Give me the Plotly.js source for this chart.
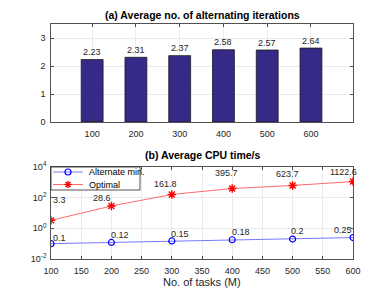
<!DOCTYPE html>
<html>
<head>
<meta charset="utf-8">
<script src="https://cdn.plot.ly/plotly-3.0.1.min.js"></script>
<style>html,body{margin:0;padding:0;background:#fff;}#chart{width:390px;height:293px;}</style>
</head>
<body>
<div id="chart"></div>
<script>
// ---- data ----
const tasks = [100, 200, 300, 400, 500, 600];
const avgIterations = [2.23, 2.31, 2.37, 2.58, 2.57, 2.64];
const iterLabels = ['2.23', '2.31', '2.37', '2.58', '2.57', '2.64'];
const cpuAltMin = [0.1, 0.12, 0.15, 0.18, 0.2, 0.25];
const altLabels = ['0.1', '0.12', '0.15', '0.18', '0.2', '0.25'];
const cpuOptimal = [3.3, 28.6, 161.8, 395.7, 623.7, 1122.6];
const optLabels = ['3.3', '28.6', '161.8', '395.7', '623.7', '1122.6'];
const seriesNames = ['Alternate min.', 'Optimal'];
const titleA = '(a) Average no. of alternating iterations';
const titleB = '(b) Average CPU time/s';
const xTitle = 'No. of tasks (M)';
const logTickVals = [0.01, 1, 100, 10000];
const logTickText = ['10<sup>-2</sup>', '10<sup>0</sup>', '10<sup>2</sup>', '10<sup>4</sup>'];

// ---- style ----
const W = 390, H = 293;
const FONT = '"Liberation Sans", Arial, Helvetica, sans-serif';
const AX = '#262626';
const GRID = '#e6e6e6';
const px = x => x / W;
const py = y => 1 - y / H;
const altShift = [[8, 6], [8.6, 7.5], [8.5, 7], [8.6, 7.5], [5.2, 8], [-10, 8]];
const optShift = [[8.5, 20], [-9.6, 8.3], [-6.5, 10], [-5.5, 16], [-5, 11], [-10, 10]];

const traces = [
  {type: 'bar', x: tasks, y: avgIterations, width: 50, xaxis: 'x', yaxis: 'y',
   marker: {color: '#352a87', line: {color: '#1a1a1a', width: 0.8}}, showlegend: false, hoverinfo: 'none'},
  {type: 'scatter', mode: 'lines+markers', x: tasks, y: cpuAltMin, xaxis: 'x2', yaxis: 'y2', name: seriesNames[0],
   line: {color: '#7878ff', width: 1}, marker: {symbol: 'circle-open', size: 6, color: '#0000ff', line: {width: 1.2, color: '#0000ff'}},
   showlegend: false},
  {type: 'scatter', mode: 'lines+markers', x: tasks, y: cpuOptimal, xaxis: 'x2', yaxis: 'y2', name: seriesNames[1],
   line: {color: '#ff6a6a', width: 1}, marker: {symbol: 'asterisk-open', size: 7, color: '#ff0000', line: {width: 1.4, color: '#ff0000'}},
   showlegend: false}
];

const axisCommon = {
  showline: true, linecolor: AX, linewidth: 0.8, mirror: 'allticks',
  ticks: 'inside', ticklen: 3, tickcolor: AX, tickwidth: 0.8,
  showgrid: true, gridcolor: GRID, gridwidth: 0.8, zeroline: false,
  tickfont: {family: FONT, size: 9, color: AX}, fixedrange: true
};

const annotations = [];
// titles
annotations.push({text: '<b>' + titleA + '</b>', xref: 'paper', yref: 'paper', x: px(202), y: py(15),
  xanchor: 'center', yanchor: 'middle', showarrow: false, font: {family: FONT, size: 10.5, color: '#000'}});
annotations.push({text: '<b>' + titleB + '</b>', xref: 'paper', yref: 'paper', x: px(202), y: py(155),
  xanchor: 'center', yanchor: 'middle', showarrow: false, font: {family: FONT, size: 10.5, color: '#000'}});
annotations.push({text: xTitle, xref: 'paper', yref: 'paper', x: px(202), y: py(282),
  xanchor: 'center', yanchor: 'middle', showarrow: false, font: {family: FONT, size: 11, color: AX}});
// bar labels
tasks.forEach((t, i) => annotations.push({text: iterLabels[i], x: t, y: avgIterations[i], xref: 'x', yref: 'y',
  xanchor: 'center', yanchor: 'middle', yshift: 7.5, showarrow: false, font: {family: FONT, size: 9, color: AX}}));
// line labels
tasks.forEach((t, i) => annotations.push({text: altLabels[i], x: t, y: Math.log10(cpuAltMin[i]), xref: 'x2', yref: 'y2',
  xanchor: 'center', yanchor: 'middle', xshift: altShift[i][0], yshift: altShift[i][1], showarrow: false,
  font: {family: FONT, size: 9, color: AX}}));
tasks.forEach((t, i) => annotations.push({text: optLabels[i], x: t, y: Math.log10(cpuOptimal[i]), xref: 'x2', yref: 'y2',
  xanchor: 'center', yanchor: 'middle', xshift: optShift[i][0], yshift: optShift[i][1], showarrow: false,
  font: {family: FONT, size: 9, color: AX}}));
// legend texts
annotations.push({text: seriesNames[0], xref: 'paper', yref: 'paper', x: px(86.5), y: py(172), xanchor: 'left', yanchor: 'middle',
  showarrow: false, font: {family: FONT, size: 9, color: '#000'}});
annotations.push({text: seriesNames[1], xref: 'paper', yref: 'paper', x: px(86.5), y: py(184.5), xanchor: 'left', yanchor: 'middle',
  showarrow: false, font: {family: FONT, size: 9, color: '#000'}});

// legend shapes
const shapes = [
  {type: 'rect', xref: 'paper', yref: 'paper', x0: px(51), x1: px(140), y0: py(190), y1: py(167),
   fillcolor: '#ffffff', line: {color: AX, width: 0.8}, layer: 'above'},
  {type: 'line', xref: 'paper', yref: 'paper', x0: px(53), x1: px(83), y0: py(172), y1: py(172),
   line: {color: '#7878ff', width: 1}, layer: 'above'},
  {type: 'circle', xref: 'paper', yref: 'paper', x0: px(65), x1: px(71), y0: py(175), y1: py(169),
   line: {color: '#0000ff', width: 1.2}, fillcolor: 'rgba(0,0,0,0)', layer: 'above'},
  {type: 'line', xref: 'paper', yref: 'paper', x0: px(53), x1: px(83), y0: py(184.5), y1: py(184.5),
   line: {color: '#ff6a6a', width: 1}, layer: 'above'}
];
// asterisk in legend
[[-3.5, 0, 3.5, 0], [0, -3.5, 0, 3.5], [-2.5, -2.5, 2.5, 2.5], [-2.5, 2.5, 2.5, -2.5]].forEach(s => shapes.push({
  type: 'line', xref: 'paper', yref: 'paper', x0: px(68 + s[0]), x1: px(68 + s[2]), y0: py(184.5 + s[1]), y1: py(184.5 + s[3]),
  line: {color: '#ff0000', width: 1.4}, layer: 'above'}));

const layout = {
  width: W, height: H, margin: {l: 0, r: 0, t: 0, b: 0},
  paper_bgcolor: '#ffffff', plot_bgcolor: '#ffffff', showlegend: false,
  font: {family: FONT, size: 9, color: AX},
  xaxis: Object.assign({}, axisCommon, {domain: [px(51), px(353)], anchor: 'y', range: [6, 696],
    tickvals: tasks, ticktext: tasks.map(String), ticklabelstandoff: 3}),
  yaxis: Object.assign({}, axisCommon, {domain: [py(122), py(24)], anchor: 'x', range: [0, 3.5],
    tickvals: [0, 1, 2, 3], ticklabelstandoff: 3}),
  xaxis2: Object.assign({}, axisCommon, {domain: [px(51), px(353)], anchor: 'y2', range: [100, 600],
    tick0: 100, dtick: 50, ticklabelstandoff: 3}),
  yaxis2: Object.assign({}, axisCommon, {domain: [py(259), py(167)], anchor: 'x2', type: 'log', range: [-2, 4],
    tickvals: logTickVals, ticktext: logTickText, ticklabelstandoff: 2}),
  annotations: annotations,
  shapes: shapes
};

Plotly.newPlot('chart', traces, layout, {displayModeBar: false, staticPlot: true});
</script>
</body>
</html>
